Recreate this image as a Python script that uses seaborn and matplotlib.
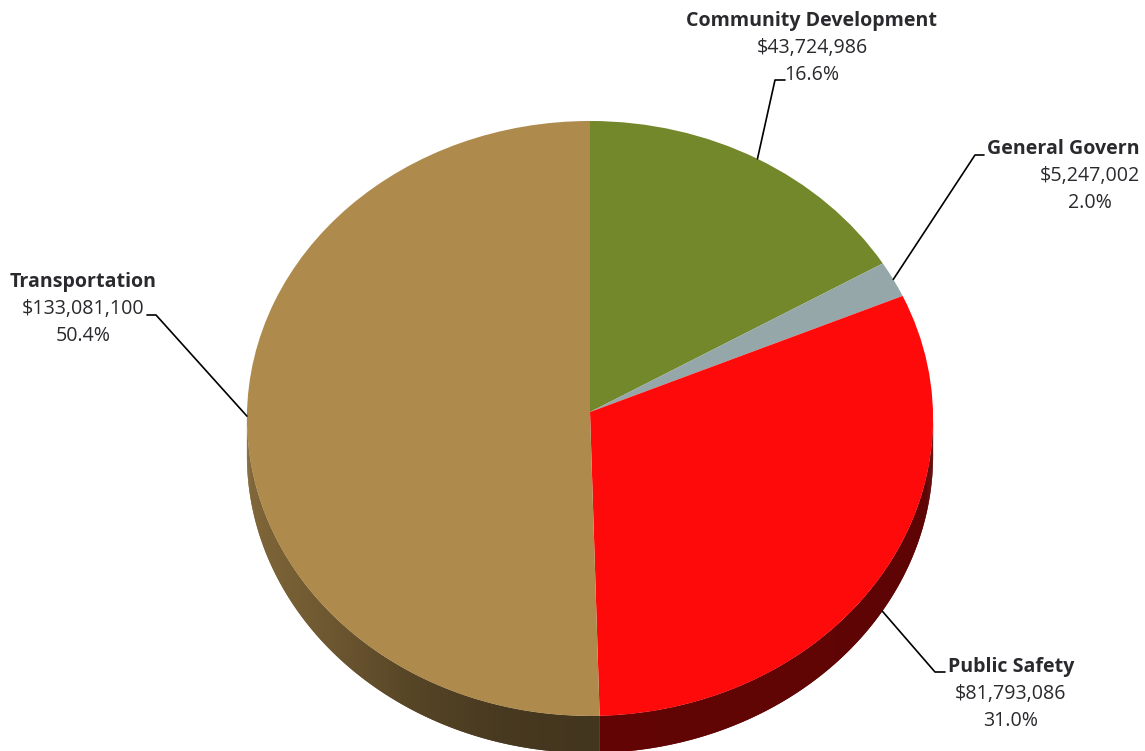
import numpy as np
import seaborn as sns
import matplotlib
matplotlib.use("Agg")
import matplotlib.pyplot as plt
from matplotlib.collections import PolyCollection
from matplotlib.path import Path
from matplotlib.transforms import Transform

# Budget by service area
departments = ["Community Development", "General Govern", "Public Safety", "Transportation"]
amounts = [43724986, 5247002, 81793086, 133081100]
amount_labels = ["$43,724,986", "$5,247,002", "$81,793,086", "$133,081,100"]
percent_labels = ["16.6%", "2.0%", "31.0%", "50.4%"]
slice_colors = ["#73872b", "#95a7a8", "#ff0a0a", "#ae8b4d"]

# Label block centres, callout elbows and callout ends, in pixels
label_centers = [(812, 21), (1063.5, 149), (1011, 667), (83, 282)]
value_centers = [812, 1090, 1011, 83]
elbows = [(775, 80), (975, 155), (935, 672), (156, 315)]
callout_ends = [(785, 80), (984, 155), (945, 672), (147, 315)]

# Tilted disc geometry, in pixels
APEX_X, APEX_Y = 590.0, 412.0
RADIUS_X, RADIUS_Y = 343.0, 297.36
TILT = 0.0218
DEPTH = 37.0
LINE_GAP = 27.0
TEXT_COLOR = "#2a2a2e"
FONT_SIZE = 14.1


def project(x, y):
    """Map points of the unit disc onto the tilted disc in pixel space."""
    w = 1.0 + TILT * y
    return APEX_X + RADIUS_X * x / w, APEX_Y - RADIUS_Y * y / w


class TiltTransform(Transform):
    input_dims = 2
    output_dims = 2
    is_separable = False
    has_inverse = False

    def transform_non_affine(self, values):
        px, py = project(values[:, 0], values[:, 1])
        return np.column_stack([px, py])

    def transform_path_non_affine(self, path):
        return Path(self.transform_non_affine(path.vertices), path.codes)


def side_shade(x):
    """Brightness of the disc's side wall, brightest at the far left."""
    return np.interp(x, [-1.0, -0.75, -0.5, -0.25, 0.0, 1.0],
                     [0.74, 0.63, 0.49, 0.41, 0.385, 0.37])


sns.set_theme(style="white")
plt.rcParams["font.family"] = ["Open Sans", "DejaVu Sans"]

fig = plt.figure(figsize=(11.45, 7.51), dpi=100, facecolor="white")
ax = fig.add_axes([0, 0, 1, 1])

palette = sns.color_palette(slice_colors)
wedges, _ = ax.pie(amounts, colors=palette, startangle=90, counterclock=False,
                   radius=1.0, wedgeprops={"linewidth": 0})
ax.set_aspect("auto")
ax.set_xlim(0, 1145)
ax.set_ylim(751, 0)
ax.axis("off")

tilt = TiltTransform() + ax.transData
for wedge in wedges:
    wedge.set_transform(tilt)
    wedge.set_zorder(3)

# Side wall of the disc, built slice by slice from the wedge angles.
# Each quad overlaps the next one so no background shows through the joins.
for wedge, color in zip(wedges, palette):
    start, stop = wedge.theta1, wedge.theta2
    count = max(int((stop - start) * 2), 2)
    theta = np.radians(np.linspace(start, stop, count + 1))
    ux, uy = np.cos(theta), np.sin(theta)
    px, py = project(ux, uy)
    polys, colors = [], []
    for i in range(count):
        if max(uy[i], uy[i + 1]) > -TILT:
            continue
        j = min(i + 2, count)
        polys.append([(px[i], py[i]), (px[j], py[j]),
                      (px[j], py[j] + DEPTH), (px[i], py[i] + DEPTH)])
        colors.append(np.array(color) * side_shade((ux[i] + ux[i + 1]) / 2))
    if polys:
        ax.add_collection(PolyCollection(polys, facecolors=colors, edgecolors="none",
                                         linewidths=0, zorder=2))

# Callouts start on the rim at each slice's middle angle, labels sit at their ends
for i, wedge in enumerate(wedges):
    mid = np.radians((wedge.theta1 + wedge.theta2) / 2)
    ux, uy = np.cos(mid), np.sin(mid)
    ax_x, ax_y = project(ux, uy)
    if departments[i] == "Public Safety":
        ax_y += DEPTH
    ax.plot([ax_x, elbows[i][0], callout_ends[i][0]],
            [ax_y, elbows[i][1], callout_ends[i][1]],
            color="black", lw=1.2, zorder=4, solid_joinstyle="round")

    name_x, name_y = label_centers[i]
    ax.text(name_x, name_y, departments[i], ha="center", va="center",
            fontsize=FONT_SIZE, fontweight="bold", color=TEXT_COLOR, zorder=5)
    ax.text(value_centers[i], name_y + LINE_GAP, amount_labels[i], ha="center", va="center",
            fontsize=FONT_SIZE, color=TEXT_COLOR, zorder=5)
    ax.text(value_centers[i], name_y + 2 * LINE_GAP, percent_labels[i], ha="center", va="center",
            fontsize=FONT_SIZE, color=TEXT_COLOR, zorder=5)

fig.savefig("out.png", dpi=100, facecolor="white")
